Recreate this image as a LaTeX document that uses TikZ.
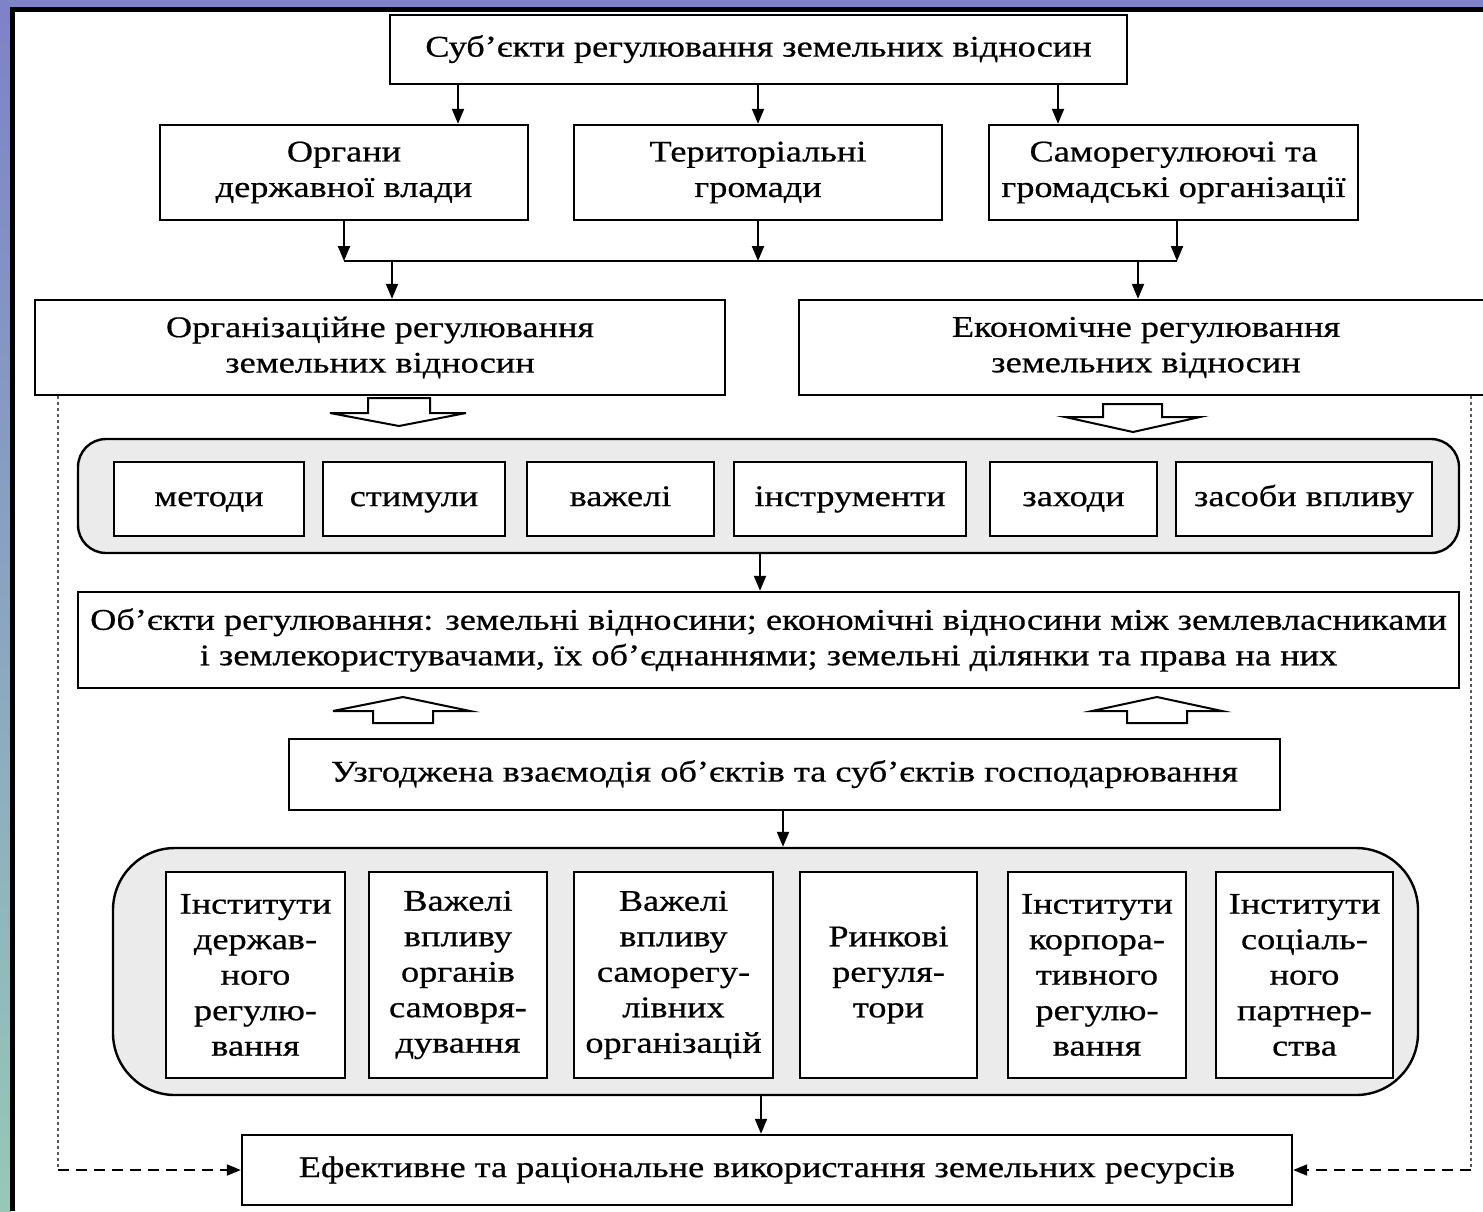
\documentclass[tikz,border=0pt]{standalone}
\usepackage{fontspec}
\setmainfont[FakeStretch=1.21,FakeBold=0.6]{Liberation Serif}
\usetikzlibrary{arrows.meta}
\definecolor{bgtop}{HTML}{7E82C8}
\definecolor{grpfill}{HTML}{EBEBEB}
\begin{document}
\begin{tikzpicture}[x=1pt,y=-1pt,
  box/.style={draw, line width=2.4pt, fill=white, inner sep=0pt, align=center,
    font=\fontsize{30}{35.5}\selectfont},
  sbox/.style={box, execute at begin node=\strut},
  ibox/.style={sbox, minimum height=74pt},
  jbox/.style={box, minimum height=206pt},
  arr/.style={line width=2pt, -{Triangle[length=15pt,width=12pt]}},
  grp/.style={draw, line width=2.4pt, fill=grpfill},
  blk/.style={draw, line width=2pt, fill=white, line join=miter},
  dotl/.style={line width=1.5pt, dash pattern=on 3pt off 3pt, black!65},
  dashl/.style={line width=2pt, dash pattern=on 11pt off 7pt, -{Triangle[length=14pt,width=11pt]}}
]
\useasboundingbox (0,0) rectangle (1483,1211);
% slide background
\fill[bgtop] (0,0) rectangle (1483,8);
\shade[top color=bgtop, middle color={rgb,255:red,180;green,190;blue,238}, bottom color={rgb,255:red,150;green,200;blue,184}] (0,0) rectangle (11,1211);
\fill[white] (12,10) rectangle (1483,1211);
\draw[line width=5pt] (12.5,1211) -- (12.5,9.5) -- (1483,9.5);

% top level
\node[sbox, minimum width=737pt, minimum height=69pt] (subj) at (758.5,49.5) {Суб’єкти регулювання земельних відносин};
\node[box, minimum width=368pt, minimum height=95pt] (org1) at (344,172.5) {Органи\\державної влади};
\node[box, minimum width=368pt, minimum height=95pt] (org2) at (758,172.5) {Територіальні\\громади};
\node[box, minimum width=369pt, minimum height=95pt] (org3) at (1173.5,172.5) {Саморегулюючі та\\громадські організації};

\coordinate (a1) at (458,0);
\coordinate (a2) at (758,0);
\coordinate (a3) at (1058,0);
\draw[arr] (subj.south -| a1) -- (org1.north -| a1);
\draw[arr] (subj.south -| a2) -- (org2.north -| a2);
\draw[arr] (subj.south -| a3) -- (org3.north -| a3);

\node[box, minimum width=690pt, minimum height=95pt] (reg1) at (380,347.5) {Організаційне регулювання\\земельних відносин};
\node[box, minimum width=694pt, minimum height=95pt] (reg2) at (1146,347.5) {Економічне регулювання\\земельних відносин};

\coordinate (jn) at (0,261);
\coordinate (b3) at (1177,0);
\coordinate (c1) at (392,0);
\coordinate (c2) at (1138,0);
\draw[arr] (org1.south) -- (org1.south |- jn);
\draw[arr] (org2.south) -- (org2.south |- jn);
\draw[arr] (org3.south -| b3) -- (b3 |- jn);
\draw[line width=2pt] (org1.south |- jn) -- (b3 |- jn);
\draw[arr] (c1 |- jn) -- (reg1.north -| c1);
\draw[arr] (c2 |- jn) -- (reg2.north -| c2);

% hollow down arrows
\draw[blk] (368,398) -- (430,398) -- (430,413) -- (466,413) -- (399,426) -- (330,413) -- (368,413) -- cycle;
\draw[blk] (1103,404) -- (1162,404) -- (1162,417) -- (1200,417) -- (1133,432) -- (1065,417) -- (1103,417) -- cycle;

% group 1
\node[grp, rounded corners=28pt, minimum width=1381pt, minimum height=114pt] (grp1) at (768.5,496) {};
\node[ibox, minimum width=190pt] (m1) at (209,499) {методи};
\node[ibox, minimum width=182pt] (m2) at (414,499) {стимули};
\node[ibox, minimum width=187pt] (m3) at (620.5,499) {важелі};
\node[ibox, minimum width=232pt] (m4) at (850,499) {інструменти};
\node[ibox, minimum width=167pt] (m5) at (1073.5,499) {заходи};
\node[ibox, minimum width=256pt] (m6) at (1304,499) {засоби впливу};

\node[box, minimum width=1381pt, minimum height=96pt] (obj) at (768.5,640) {Об’єкти регулювання: земельні відносини; економічні відносини між землевласниками\\і землекористувачами, їх об’єднаннями; земельні ділянки та права на них};
\coordinate (d1) at (760,0);
\draw[arr] (grp1.south -| d1) -- (obj.north -| d1);

% hollow up arrows
\draw[blk] (373,723) -- (433,723) -- (433,711) -- (470,711) -- (403,697) -- (333,711) -- (373,711) -- cycle;
\draw[blk] (1127,723) -- (1187,723) -- (1187,711) -- (1222,711) -- (1157,697) -- (1092,711) -- (1127,711) -- cycle;

\node[sbox, minimum width=991pt, minimum height=71pt] (uzg) at (784.5,774.5) {Узгоджена взаємодія об’єктів та суб’єктів господарювання};

% group 2
\node[grp, rounded corners=62pt, minimum width=1305pt, minimum height=247pt] (grp2) at (765.5,971.5) {};
\coordinate (e1) at (783,0);
\draw[arr] (uzg.south -| e1) -- (grp2.north -| e1);
\node[jbox, minimum width=179pt] (n1) at (255.5,975) {Інститути\\держав-\\ного\\регулю-\\вання};
\node[jbox, minimum width=178pt] (n2) at (458,975) {Важелі\\впливу\\органів\\самовря-\\дування};
\node[jbox, minimum width=199pt] (n3) at (673.5,975) {Важелі\\впливу\\саморегу-\\лівних\\організацій};
\node[jbox, minimum width=177pt] (n4) at (888.5,975) {Ринкові\\регуля-\\тори};
\node[jbox, minimum width=178pt] (n5) at (1097,975) {Інститути\\корпора-\\тивного\\регулю-\\вання};
\node[jbox, minimum width=177pt] (n6) at (1304.5,975) {Інститути\\соціаль-\\ного\\партнер-\\ства};

\node[sbox, minimum width=1050pt, minimum height=70pt] (eff) at (767,1170) {Ефективне та раціональне використання земельних ресурсів};
\coordinate (f1) at (761,0);
\draw[arr] (grp2.south -| f1) -- (eff.north -| f1);

% feedback lines
\coordinate (gl) at (58,0);
\coordinate (gr) at (1471,0);
\draw[dotl] (reg1.south -| gl) -- (gl |- eff.west);
\draw[dashl] (gl |- eff.west) -- (eff.west);
\draw[dotl] (reg2.south -| gr) -- (gr |- eff.east);
\draw[dashl] (gr |- eff.east) -- (eff.east);
\end{tikzpicture}
\end{document}
